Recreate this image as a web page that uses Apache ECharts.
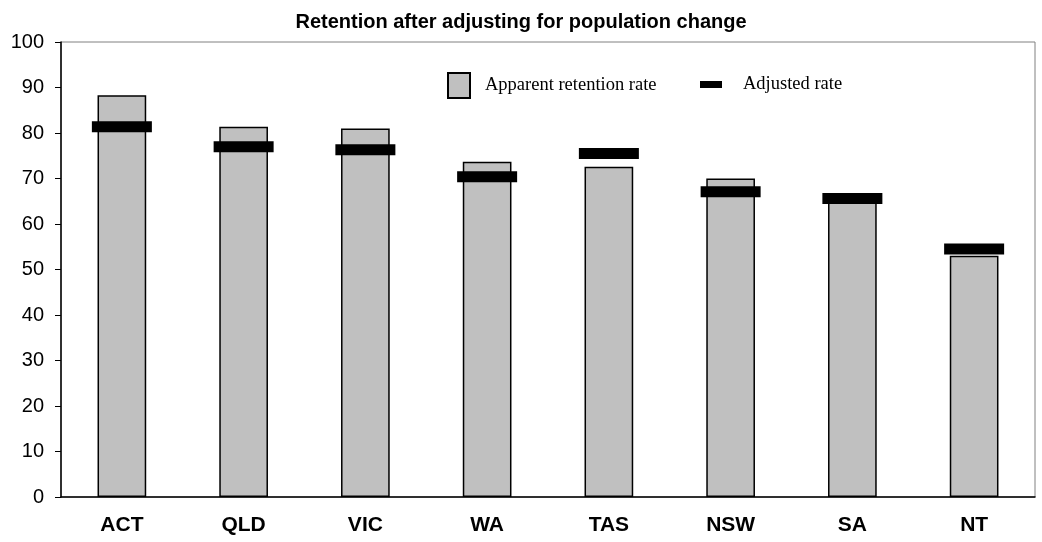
<!DOCTYPE html>
<html><head><meta charset="utf-8">
<script src="https://cdn.jsdelivr.net/npm/echarts@6/dist/echarts.min.js"></script>
<style>html,body{margin:0;padding:0;background:#fff}#c{width:1042px;height:542px}</style>
</head><body><div id="c"></div>
<script>
const categories = ['ACT','QLD','VIC','WA','TAS','NSW','SA','NT'];
const apparentRate = [88.3, 81.4, 81.0, 73.7, 72.6, 70.0, 65.0, 53.0];
const adjustedRate = [81.4, 77.0, 76.3, 70.4, 75.5, 67.1, 65.6, 54.5];
const yTicks = [0,10,20,30,40,50,60,70,80,90,100];

const chart = echarts.init(document.getElementById('c'), null, {renderer:'canvas'});
chart.setOption({
  animation:false,
  backgroundColor:'#fff',
  title:{text:'Retention after adjusting for population change', left:'center', top:7,
    textStyle:{fontFamily:'Liberation Sans, Arial', fontWeight:'bold', fontSize:20, color:'#000'}},
  grid:{left:61, right:7, top:42, bottom:45, show:true, borderColor:'#808080', borderWidth:1},
  legend:[
    {data:['Apparent retention rate'], left:442, top:67, itemWidth:22, itemHeight:25, icon:'rect',
     textStyle:{fontFamily:'Liberation Serif, Times New Roman', fontSize:18.5, color:'#000', padding:[0,0,4,10]}},
    {data:['Adjusted rate'], left:695, top:70, itemWidth:22, itemHeight:7, icon:'rect',
     textStyle:{fontFamily:'Liberation Serif, Times New Roman', fontSize:18.5, color:'#000', padding:[0,0,4,16]}}
  ],
  xAxis:{type:'category', data:categories,
    axisLine:{lineStyle:{color:'#000', width:1.5}}, axisTick:{show:false},
    axisLabel:{fontFamily:'Liberation Sans, Arial', fontWeight:'bold', fontSize:21, color:'#000', margin:18}},
  yAxis:{type:'value', min:0, max:100, interval:10,
    axisLine:{show:true, lineStyle:{color:'#000', width:1.5}},
    axisTick:{show:true, length:6, lineStyle:{color:'#000'}},
    splitLine:{show:false},
    axisLabel:{fontFamily:'Liberation Sans, Arial', fontSize:20, color:'#000', margin:17,
      formatter:v=>yTicks.includes(v)?String(v):''}},
  series:[
    {name:'Apparent retention rate', type:'bar', data:apparentRate, barWidth:'40%',
     itemStyle:{color:'#c0c0c0', borderColor:'#000', borderWidth:1.5}},
    {name:'Adjusted rate', type:'scatter', data:adjustedRate, symbol:'rect', symbolSize:[60,11],
     itemStyle:{color:'#000', opacity:1}, z:5}
  ]
});
</script></body></html>
